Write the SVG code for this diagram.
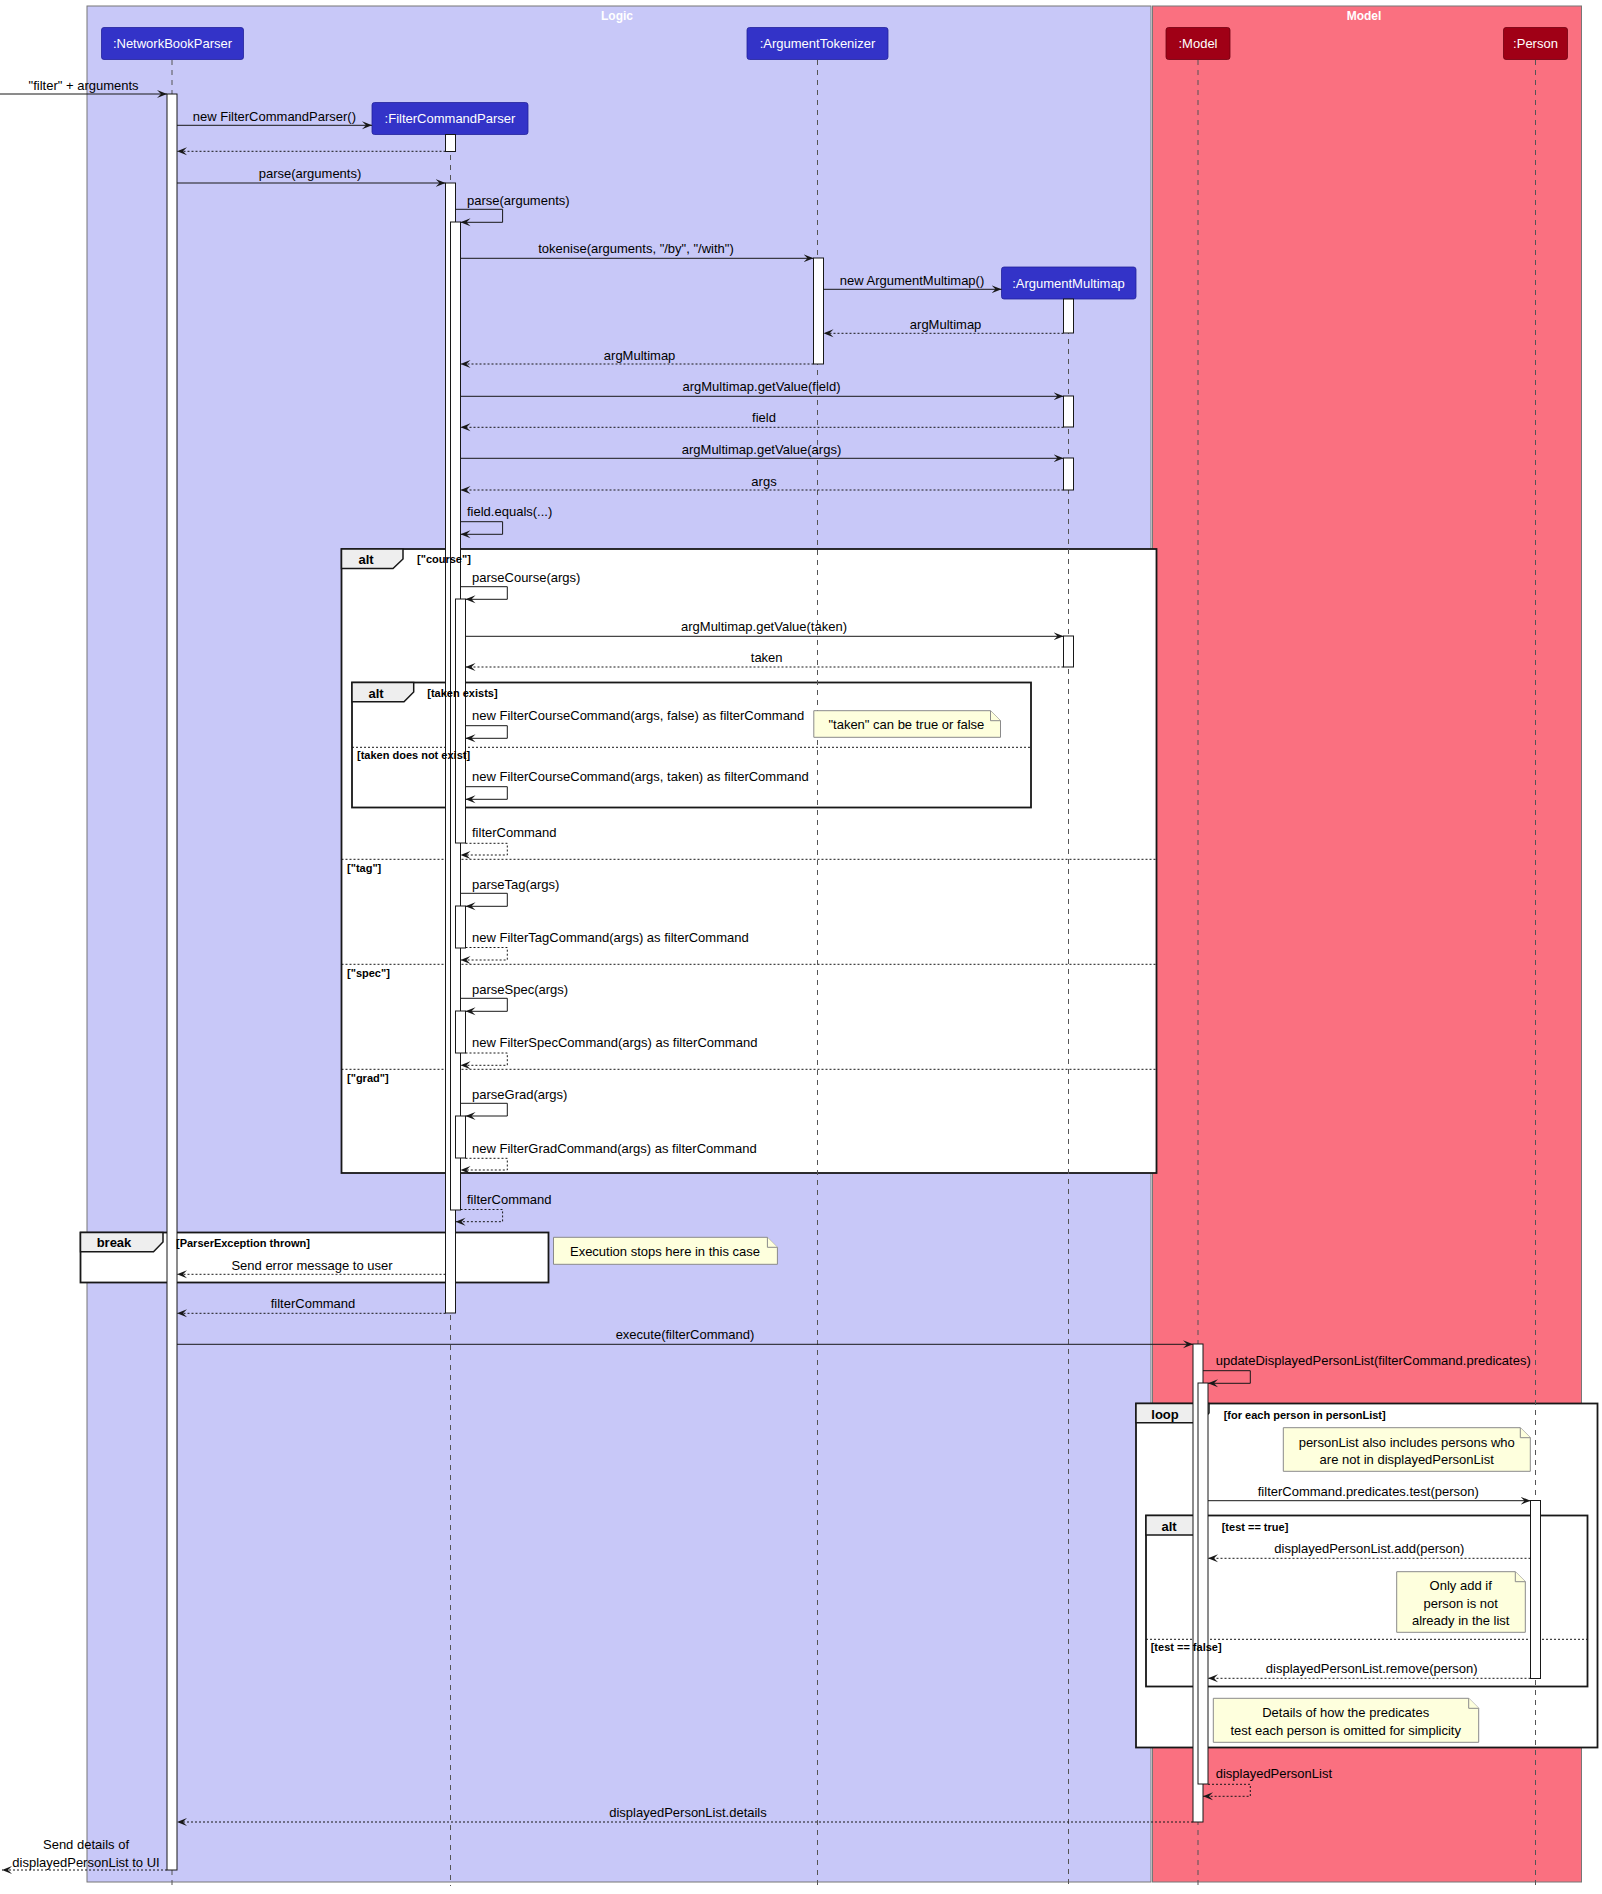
<svg xmlns="http://www.w3.org/2000/svg" width="1602" height="1894" viewBox="0 0 1602 1894">
<defs>
<marker id="ah" viewBox="0 0 11 10" refX="10" refY="5" markerWidth="11" markerHeight="10" orient="auto" markerUnits="userSpaceOnUse"><path d="M0,1 L10,5 L0,9 L4,5 Z" fill="#181818"/></marker>
<style>
text{font-family:"Liberation Sans",Arial,sans-serif;fill:#000}
.box{stroke:#777;stroke-width:1}
.boxlbl{font-size:12px;font-weight:bold;fill:#fff;text-anchor:middle}
.pl{fill:#3333C8;stroke:#22229a;stroke-width:0.8}
.pm{fill:#A00016;stroke:#700010;stroke-width:0.8}
.ptxt{font-size:13px;fill:#fff;text-anchor:middle}
.life{stroke:#555;stroke-width:1;stroke-dasharray:5,5;fill:none}
.act{fill:#fff;stroke:#181818;stroke-width:1}
.frame{fill:#fff;stroke:#181818;stroke-width:1.8}
.tab{fill:#EEEEEE;stroke:#181818;stroke-width:1.5}
.tabtxt{font-size:13px;font-weight:bold;text-anchor:middle}
.guard{font-size:11px;font-weight:bold}
.sep{stroke:#181818;stroke-width:1;stroke-dasharray:2,2}
.msg{stroke:#181818;stroke-width:1;fill:none;marker-end:url(#ah)}
.ret{stroke:#181818;stroke-width:1;fill:none;stroke-dasharray:2,2;marker-end:url(#ah)}
.m{font-size:13px;text-anchor:middle}
.ms{font-size:13px}
.note{fill:#FEFFDD;stroke:#8a8a8a;stroke-width:1}
.nt{font-size:13px;text-anchor:middle}
</style>
</defs>

<g id="box-logic">
<rect class="box" x="87" y="6" width="1064" height="1876" fill="#C8C8F8"/>
<text class="boxlbl" x="617" y="19.5">Logic</text>
</g>
<g id="box-model">
<rect class="box" x="1152.5" y="6" width="429" height="1876" fill="#FA7080"/>
<text class="boxlbl" x="1364" y="19.5">Model</text>
</g>

<g id="frames">
<g id="alt-outer">
<rect class="frame" x="341.5" y="549" width="815" height="624"/>
<path class="tab" d="M341.5,549 H403 V559 L393,568.5 H341.5 Z"/>
<text class="tabtxt" x="366" y="564">alt</text>
<line class="sep" x1="341.5" y1="859.3" x2="1156.5" y2="859.3"/>
<line class="sep" x1="341.5" y1="964.3" x2="1156.5" y2="964.3"/>
<line class="sep" x1="341.5" y1="1069.3" x2="1156.5" y2="1069.3"/>
</g>
<g id="alt-taken">
<rect class="frame" x="352" y="682.5" width="679" height="125"/>
<path class="tab" d="M352,682.5 H413.7 V692 L404,701.7 H352 Z"/>
<text class="tabtxt" x="376" y="697.5">alt</text>
<line class="sep" x1="352" y1="747.3" x2="1031" y2="747.3"/>
</g>
<g id="break">
<rect class="frame" x="80.5" y="1232.5" width="468" height="50"/>
<path class="tab" d="M80.5,1232.5 H163 V1242 L153.5,1251.7 H80.5 Z"/>
<text class="tabtxt" x="114" y="1247">break</text>
</g>
<g id="loop">
<rect class="frame" x="1136" y="1403.5" width="461.5" height="344"/>
<path class="tab" d="M1136,1403.5 H1209 V1413 L1199.5,1422.7 H1136 Z"/>
<text class="tabtxt" x="1165" y="1419">loop</text>
</g>
<g id="alt-test">
<rect class="frame" x="1146" y="1515.5" width="441.5" height="171"/>
<path class="tab" d="M1146,1515.5 H1207 V1525 L1197.5,1535 H1146 Z"/>
<text class="tabtxt" x="1169" y="1531">alt</text>
<line class="sep" x1="1146" y1="1639.3" x2="1587.5" y2="1639.3"/>
</g>
</g>

<g id="lifelines">
<line class="life" x1="172" y1="60" x2="172" y2="1886"/>
<line class="life" x1="450.5" y1="135" x2="450.5" y2="1886"/>
<line class="life" x1="817.5" y1="60" x2="817.5" y2="1886"/>
<line class="life" x1="1068.5" y1="299" x2="1068.5" y2="1886"/>
<line class="life" x1="1198" y1="60" x2="1198" y2="1886"/>
<line class="life" x1="1535.5" y1="60" x2="1535.5" y2="1886"/>
</g>

<g id="p-networkbookparser">
<rect class="pl" x="101.5" y="27.5" width="142" height="32" rx="2.5"/>
<text class="ptxt" x="172.5" y="48">:NetworkBookParser</text>
</g>
<g id="p-filtercommandparser">
<rect class="pl" x="372" y="102.5" width="156" height="32" rx="2.5"/>
<text class="ptxt" x="450" y="123">:FilterCommandParser</text>
</g>
<g id="p-argumenttokenizer">
<rect class="pl" x="747" y="27.5" width="141" height="32" rx="2.5"/>
<text class="ptxt" x="817.5" y="48">:ArgumentTokenizer</text>
</g>
<g id="p-argumentmultimap">
<rect class="pl" x="1001.5" y="267" width="134.5" height="32" rx="2.5"/>
<text class="ptxt" x="1068.5" y="287.5">:ArgumentMultimap</text>
</g>
<g id="p-model">
<rect class="pm" x="1166" y="27.5" width="64" height="32" rx="2.5"/>
<text class="ptxt" x="1198" y="48">:Model</text>
</g>
<g id="p-person">
<rect class="pm" x="1503.5" y="27.5" width="64" height="32" rx="2.5"/>
<text class="ptxt" x="1535.5" y="48">:Person</text>
</g>

<g id="activations">
<rect class="act" x="167" y="94" width="10" height="1776"/>
<rect class="act" x="445.5" y="134.5" width="10" height="17"/>
<rect class="act" x="445.5" y="183" width="10" height="1130"/>
<rect class="act" x="450.5" y="222" width="10" height="988"/>
<rect class="act" x="455.5" y="599" width="10" height="244"/>
<rect class="act" x="455.5" y="906" width="10" height="42"/>
<rect class="act" x="455.5" y="1011" width="10" height="42"/>
<rect class="act" x="455.5" y="1116" width="10" height="42"/>
<rect class="act" x="813.5" y="258" width="10" height="106"/>
<rect class="act" x="1063.5" y="299" width="10" height="34"/>
<rect class="act" x="1063.5" y="396" width="10" height="31"/>
<rect class="act" x="1063.5" y="458" width="10" height="32"/>
<rect class="act" x="1063.5" y="636" width="10" height="31"/>
<rect class="act" x="1193" y="1344" width="10" height="478"/>
<rect class="act" x="1198" y="1383" width="10" height="401"/>
<rect class="act" x="1530.5" y="1500.5" width="10" height="178"/>
</g>

<g id="guards">
<text class="guard" x="417" y="563">["course"]</text>
<text class="guard" x="347" y="871.5">["tag"]</text>
<text class="guard" x="347" y="976.5">["spec"]</text>
<text class="guard" x="347" y="1082">["grad"]</text>
<text class="guard" x="427.3" y="697">[taken exists]</text>
<text class="guard" x="357" y="759">[taken does not exist]</text>
<text class="guard" x="176" y="1246.5">[ParserException thrown]</text>
<text class="guard" x="1223.7" y="1418.5">[for each person in personList]</text>
<text class="guard" x="1221.7" y="1530.5">[test == true]</text>
<text class="guard" x="1150.7" y="1651">[test == false]</text>
</g>

<g id="connectors">
<line class="msg" x1="0" y1="94" x2="167" y2="94"/>
<text class="m" x="83.6" y="89.5">"filter" + arguments</text>
<line class="msg" x1="177" y1="125.3" x2="372" y2="125.3"/>
<text class="m" x="274.4" y="120.5">new FilterCommandParser()</text>
<line class="ret" x1="445.5" y1="151.3" x2="177" y2="151.3"/>
<line class="msg" x1="177" y1="183" x2="445.5" y2="183"/>
<text class="m" x="310" y="178">parse(arguments)</text>
<path class="msg" d="M455.5,209.3 H502.6 V222.3 H460.5"/>
<text class="ms" x="467" y="204.5">parse(arguments)</text>
<line class="msg" x1="460.5" y1="258.3" x2="813.5" y2="258.3"/>
<text class="m" x="636" y="252.5">tokenise(arguments, "/by", "/with")</text>
<line class="msg" x1="823.5" y1="289.3" x2="1001.5" y2="289.3"/>
<text class="m" x="912" y="284.5">new ArgumentMultimap()</text>
<line class="ret" x1="1063.5" y1="333.3" x2="823.5" y2="333.3"/>
<text class="m" x="945.6" y="328.5">argMultimap</text>
<line class="ret" x1="813.5" y1="364" x2="460.5" y2="364"/>
<text class="m" x="639.6" y="360">argMultimap</text>
<line class="msg" x1="460.5" y1="396.3" x2="1063.5" y2="396.3"/>
<text class="m" x="761.5" y="391">argMultimap.getValue(field)</text>
<line class="ret" x1="1063.5" y1="427.3" x2="460.5" y2="427.3"/>
<text class="m" x="764" y="421.5">field</text>
<line class="msg" x1="460.5" y1="458.3" x2="1063.5" y2="458.3"/>
<text class="m" x="761.5" y="453.5">argMultimap.getValue(args)</text>
<line class="ret" x1="1063.5" y1="490" x2="460.5" y2="490"/>
<text class="m" x="764" y="485.5">args</text>
<path class="msg" d="M460.5,521.7 H502.6 V534.3 H460.5"/>
<text class="ms" x="467" y="516">field.equals(...)</text>
<path class="msg" d="M460.5,586.7 H507.3 V599.3 H465.5"/>
<text class="ms" x="472" y="582">parseCourse(args)</text>
<line class="msg" x1="465.5" y1="636.3" x2="1063.5" y2="636.3"/>
<text class="m" x="764" y="631">argMultimap.getValue(taken)</text>
<line class="ret" x1="1063.5" y1="667" x2="465.5" y2="667"/>
<text class="m" x="766.7" y="662">taken</text>
<path class="msg" d="M465.5,725.7 H507.3 V738.3 H465.5"/>
<text class="ms" x="472" y="720">new FilterCourseCommand(args, false) as filterCommand</text>
<path class="msg" d="M465.5,786.7 H507.3 V799.3 H465.5"/>
<text class="ms" x="472" y="781">new FilterCourseCommand(args, taken) as filterCommand</text>
<path class="ret" d="M465.5,843.3 H507.3 V855 H460.5"/>
<text class="ms" x="472" y="836.5">filterCommand</text>
<path class="msg" d="M460.5,893.3 H507.3 V906.3 H465.5"/>
<text class="ms" x="472" y="888.5">parseTag(args)</text>
<path class="ret" d="M465.5,947.5 H507.3 V960 H460.5"/>
<text class="ms" x="472" y="942">new FilterTagCommand(args) as filterCommand</text>
<path class="msg" d="M460.5,998.3 H507.3 V1011.3 H465.5"/>
<text class="ms" x="472" y="993.5">parseSpec(args)</text>
<path class="ret" d="M465.5,1053 H507.3 V1065.3 H460.5"/>
<text class="ms" x="472" y="1046.5">new FilterSpecCommand(args) as filterCommand</text>
<path class="msg" d="M460.5,1103.3 H507.3 V1116 H465.5"/>
<text class="ms" x="472" y="1098.5">parseGrad(args)</text>
<path class="ret" d="M465.5,1158.3 H507.3 V1170 H460.5"/>
<text class="ms" x="472" y="1152.5">new FilterGradCommand(args) as filterCommand</text>
<path class="ret" d="M460.5,1209.5 H502.6 V1221.7 H455.5"/>
<text class="ms" x="467" y="1203.5">filterCommand</text>
<line class="ret" x1="445.5" y1="1274.3" x2="177" y2="1274.3"/>
<text class="m" x="312" y="1270">Send error message to user</text>
<line class="ret" x1="445.5" y1="1313.3" x2="177" y2="1313.3"/>
<text class="m" x="313" y="1307.5">filterCommand</text>
<line class="msg" x1="177" y1="1344.3" x2="1193" y2="1344.3"/>
<text class="m" x="685" y="1338.5">execute(filterCommand)</text>
<path class="msg" d="M1203,1370.7 H1250.3 V1383.3 H1208"/>
<text class="ms" x="1215.7" y="1365">updateDisplayedPersonList(filterCommand.predicates)</text>
<line class="msg" x1="1208" y1="1500.7" x2="1530.5" y2="1500.7"/>
<text class="m" x="1368.3" y="1496">filterCommand.predicates.test(person)</text>
<line class="ret" x1="1530.5" y1="1558.3" x2="1208" y2="1558.3"/>
<text class="m" x="1369.3" y="1553">displayedPersonList.add(person)</text>
<line class="ret" x1="1530.5" y1="1678.3" x2="1208" y2="1678.3"/>
<text class="m" x="1371.7" y="1673">displayedPersonList.remove(person)</text>
<path class="ret" d="M1208,1784.3 H1250.3 V1796.3 H1203"/>
<text class="ms" x="1215.7" y="1778">displayedPersonList</text>
<line class="ret" x1="1193" y1="1822" x2="177" y2="1822"/>
<text class="m" x="688" y="1817">displayedPersonList.details</text>
<line class="ret" x1="167" y1="1870" x2="2" y2="1870"/>
<text class="m" x="86" y="1848.5">Send details of</text>
<text class="m" x="86" y="1866.5">displayedPersonList to UI</text>
</g>

<g id="notes">
<g id="note-taken">
<path class="note" d="M813.8,710.7 H990.5 L1000.5,720.7 V737.3 H813.8 Z"/>
<path class="note" d="M990.5,710.7 V720.7 H1000.5" fill="none"/>
<text class="nt" x="906.4" y="728.5">"taken" can be true or false</text>
</g>
<g id="note-execution">
<path class="note" d="M553.5,1237.3 H767.4 L777.4,1247.3 V1264.3 H553.5 Z"/>
<path class="note" d="M767.4,1237.3 V1247.3 H777.4" fill="none"/>
<text class="nt" x="665" y="1256">Execution stops here in this case</text>
</g>
<g id="note-personlist">
<path class="note" d="M1283.3,1427.7 H1520.3 L1530.3,1437.7 V1471.3 H1283.3 Z"/>
<path class="note" d="M1520.3,1427.7 V1437.7 H1530.3" fill="none"/>
<text class="nt" x="1406.7" y="1447">personList also includes persons who</text>
<text class="nt" x="1406.7" y="1463.5">are not in displayedPersonList</text>
</g>
<g id="note-onlyadd">
<path class="note" d="M1396.7,1571.7 H1515.3 L1525.3,1581.7 V1632.3 H1396.7 Z"/>
<path class="note" d="M1515.3,1571.7 V1581.7 H1525.3" fill="none"/>
<text class="nt" x="1460.7" y="1590">Only add if</text>
<text class="nt" x="1460.7" y="1608">person is not</text>
<text class="nt" x="1460.7" y="1624.5">already in the list</text>
</g>
<g id="note-details">
<path class="note" d="M1213.3,1698.3 H1468.7 L1478.7,1708.3 V1742.3 H1213.3 Z"/>
<path class="note" d="M1468.7,1698.3 V1708.3 H1478.7" fill="none"/>
<text class="nt" x="1345.7" y="1716.5">Details of how the predicates</text>
<text class="nt" x="1345.7" y="1734.5">test each person is omitted for simplicity</text>
</g>
</g>
</svg>
